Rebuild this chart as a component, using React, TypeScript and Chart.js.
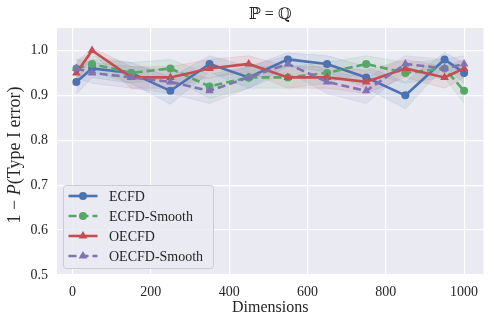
import React, { useEffect, useRef } from "react";
import { Chart, registerables } from "chart.js";
Chart.register(...registerables);

const dims = [10, 50, 150, 250, 350, 450, 550, 650, 750, 850, 950, 1000];
const ecfd = [0.93, 0.96, 0.95, 0.91, 0.97, 0.94, 0.98, 0.97, 0.94, 0.9, 0.98, 0.95];
const ecfdSmooth = [0.96, 0.97, 0.95, 0.96, 0.92, 0.94, 0.94, 0.95, 0.97, 0.95, 0.96, 0.91];
const oecfd = [0.95, 1.0, 0.94, 0.94, 0.96, 0.97, 0.94, 0.94, 0.93, 0.96, 0.94, 0.96];
const oecfdSmooth = [0.96, 0.95, 0.94, 0.93, 0.91, 0.94, 0.97, 0.93, 0.91, 0.97, 0.96, 0.97];

const ecfdErr = [0.027, 0.02, 0.023, 0.03, 0.018, 0.024, 0.015, 0.018, 0.024, 0.03, 0.015, 0.023];
const ecfdSmoothErr = [0.02, 0.018, 0.023, 0.02, 0.027, 0.024, 0.024, 0.023, 0.018, 0.023, 0.02, 0.028];
const oecfdErr = [0.023, 0.006, 0.024, 0.024, 0.02, 0.018, 0.024, 0.024, 0.026, 0.02, 0.024, 0.02];
const oecfdSmoothErr = [0.02, 0.023, 0.024, 0.026, 0.028, 0.024, 0.018, 0.026, 0.028, 0.018, 0.02, 0.018];

const seriesNames = ["ECFD", "ECFD-Smooth", "OECFD", "OECFD-Smooth"];
const xTicks = [0, 200, 400, 600, 800, 1000];
const yTicks = [0.5, 0.6, 0.7, 0.8, 0.9, 1.0];

const COLORS = ["#4C72B0", "#55A868", "#C44E52", "#8172B2"];
const FONT = "'Liberation Serif', 'DejaVu Serif', serif";
const TEXT = "#262626";

function hexA(hex: string, a: number) {
  const r = parseInt(hex.slice(1, 3), 16);
  const g = parseInt(hex.slice(3, 5), 16);
  const b = parseInt(hex.slice(5, 7), 16);
  return `rgba(${r},${g},${b},${a})`;
}

export default function App() {
  const ref = useRef<HTMLCanvasElement | null>(null);
  useEffect(() => {
    document.body.style.margin = "0";
    const canvas = ref.current!;
    const values = [ecfd, ecfdSmooth, oecfd, oecfdSmooth];
    const errs = [ecfdErr, ecfdSmoothErr, oecfdErr, oecfdSmoothErr];
    const dashed = [false, true, false, true];
    const styles = ["circle", "circle", "triangle", "triangle"];

    const datasets: any[] = [];
    values.forEach((vals, i) => {
      datasets.push({
        label: seriesNames[i] + "-lo",
        data: dims.map((d, j) => ({ x: d, y: vals[j] - errs[i][j] })),
        borderColor: hexA(COLORS[i], 0.12),
        borderWidth: 1,
        pointRadius: 0,
        fill: false,
        order: 20 + i,
      });
      datasets.push({
        label: seriesNames[i] + "-hi",
        data: dims.map((d, j) => ({ x: d, y: vals[j] + errs[i][j] })),
        borderColor: hexA(COLORS[i], 0.12),
        borderWidth: 1,
        pointRadius: 0,
        backgroundColor: hexA(COLORS[i], 0.11),
        fill: "-1",
        order: 20 + i,
      });
    });
    values.forEach((vals, i) => {
      datasets.push({
        label: seriesNames[i],
        data: dims.map((d, j) => ({ x: d, y: vals[j] })),
        borderColor: COLORS[i],
        backgroundColor: COLORS[i],
        borderWidth: 2.6,
        borderDash: dashed[i] ? [8, 4] : [],
        pointStyle: styles[i],
        pointRadius: styles[i] === "triangle" ? 5 : 4,
        pointBorderWidth: 0,
        fill: false,
        order: 10 - i,
      });
    });

    const textPlugin = {
      id: "texts",
      afterDatasetsDraw(chart: any) {
        const ctx = chart.ctx as CanvasRenderingContext2D;
        ctx.save();
        ctx.fillStyle = TEXT;
        ctx.font = `16px ${FONT}`;
        ctx.textAlign = "center";
        ctx.textBaseline = "middle";
        const ca = chart.chartArea;
        ctx.fillText("\u2119 = \u211A", (ca.left + ca.right) / 2, 15);
        ctx.font = `16px ${FONT}`;
        ctx.fillText("Dimensions", (ca.left + ca.right) / 2, 308);
        ctx.translate(15, 155);
        ctx.rotate(-Math.PI / 2);
        const parts = [
          { t: "1 \u2212 ", f: `18px ${FONT}` },
          { t: "P", f: `italic 18px ${FONT}` },
          { t: "(Type I error)", f: `18px ${FONT}` },
        ];
        let total = 0;
        parts.forEach((p) => {
          ctx.font = p.f;
          total += ctx.measureText(p.t).width;
        });
        let x = -total / 2;
        ctx.textAlign = "left";
        parts.forEach((p) => {
          ctx.font = p.f;
          ctx.fillText(p.t, x, 0);
          x += ctx.measureText(p.t).width;
        });
        ctx.restore();

        ctx.save();
        const lx = 63.5, ly = 185.5, lw = 150, lh = 83;
        ctx.beginPath();
        (ctx as any).roundRect(lx, ly, lw, lh, 3);
        ctx.fillStyle = "rgba(234,234,242,0.85)";
        ctx.fill();
        ctx.strokeStyle = "#CCCCCC";
        ctx.lineWidth = 1;
        ctx.stroke();
        seriesNames.forEach((name, i) => {
          const yy = 196 + i * 20;
          ctx.strokeStyle = COLORS[i];
          ctx.lineWidth = 2.6;
          ctx.setLineDash(dashed[i] ? [8, 4] : []);
          ctx.beginPath();
          ctx.moveTo(68.5, yy);
          ctx.lineTo(97.5, yy);
          ctx.stroke();
          ctx.setLineDash([]);
          ctx.fillStyle = COLORS[i];
          ctx.beginPath();
          if (styles[i] === "circle") {
            ctx.arc(83, yy, 4, 0, Math.PI * 2);
          } else {
            const r = 5;
            ctx.moveTo(83, yy - r);
            ctx.lineTo(83 + r * 0.866, yy + r * 0.5);
            ctx.lineTo(83 - r * 0.866, yy + r * 0.5);
            ctx.closePath();
          }
          ctx.fill();
          ctx.fillStyle = TEXT;
          ctx.font = `14px ${FONT}`;
          ctx.textAlign = "left";
          ctx.textBaseline = "middle";
          ctx.fillText(name, 109, yy + 1);
        });
        ctx.restore();
      },
    };

    const bgPlugin = {
      id: "bg",
      beforeDraw(chart: any) {
        const { ctx, chartArea: ca } = chart;
        ctx.save();
        ctx.fillStyle = "#EAEAF2";
        ctx.fillRect(ca.left, ca.top, ca.right - ca.left, ca.bottom - ca.top);
        ctx.restore();
      },
    };

    const chart = new Chart(canvas, {
      type: "line",
      data: { datasets },
      plugins: [bgPlugin, textPlugin],
      options: {
        animation: false,
        responsive: false,
        devicePixelRatio: 1,
        layout: { padding: { top: 28, right: 14.5, left: 0, bottom: 0 } },
        plugins: { legend: { display: false }, tooltip: { enabled: false }, title: { display: false } },
        scales: {
          x: {
            type: "linear",
            min: -39.5,
            max: 1049.5,
            afterFit: (s: any) => { s.height = 50; },
            afterBuildTicks: (s: any) => { s.ticks = xTicks.map((v) => ({ value: v })); },
            grid: { color: "#FFFFFF", lineWidth: 1.2, drawTicks: false },
            border: { display: false },
            ticks: {
              padding: 9,
              color: TEXT,
              font: { family: FONT, size: 14 },
              maxRotation: 0,
              callback: (v: any) => String(v),
            },
          },
          y: {
            type: "linear",
            min: 0.5,
            max: 1.05,
            afterFit: (s: any) => { s.width = 57; },
            afterBuildTicks: (s: any) => { s.ticks = yTicks.map((v) => ({ value: v })); },
            grid: { color: "#FFFFFF", lineWidth: 1.2, drawTicks: false },
            border: { display: false },
            ticks: {
              padding: 9,
              color: TEXT,
              font: { family: FONT, size: 14 },
              callback: (v: any) => Number(v).toFixed(1),
            },
          },
        },
      } as any,
    });
    return () => chart.destroy();
  }, []);
  return (
    <div style={{ width: 498, height: 325 }}>
      <canvas ref={ref} width={498} height={325} style={{ width: 498, height: 325, display: "block" }} />
    </div>
  );
}
